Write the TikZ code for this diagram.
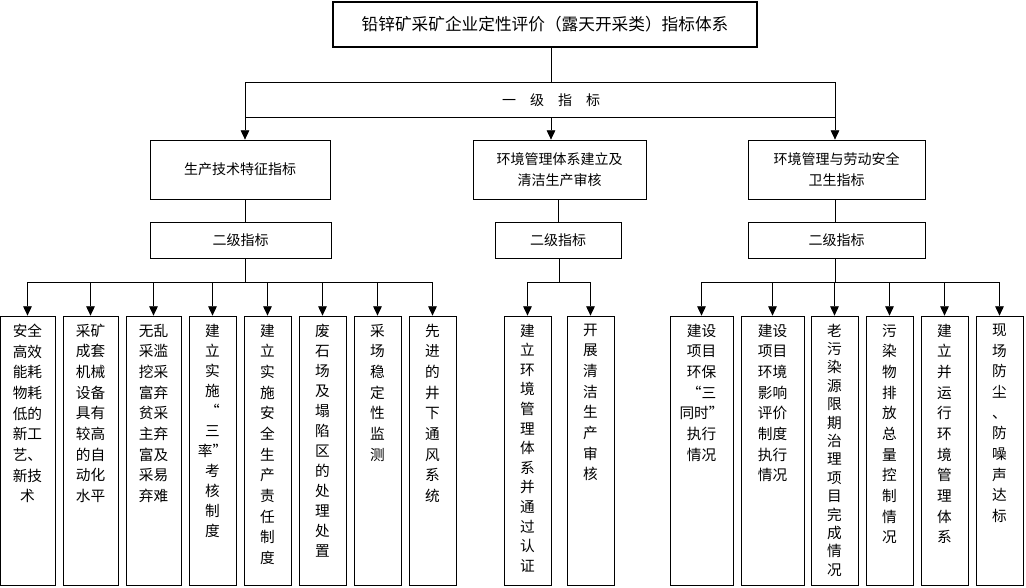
\documentclass[tikz,border=0pt]{standalone}
\usepackage{fontspec}
\setmainfont{Noto Sans CJK SC}
\usetikzlibrary{arrows.meta}
\tikzset{
  box/.style={draw, line width=0.6pt, inner sep=0pt},
  leaf/.style={draw, line width=0.6pt, minimum height=201.75pt, inner sep=0pt},
  leaftext/.style={anchor=north, yshift=-6pt, inner sep=0pt, align=center},
  arr/.style={-{Triangle[length=7pt,width=6.5pt]}, line width=0.6pt},
  ln/.style={line width=0.6pt}
}
\begin{document}
\begin{tikzpicture}[x=0.75pt,y=-0.75pt]
\useasboundingbox (0,0) rectangle (1026,587);
% top
\node[box, line width=1.2pt, minimum width=318pt, minimum height=33.75pt,
  font=\fontsize{12.5}{15}\selectfont] (title) at (545,24.5) {铅锌矿采矿企业定性评价（露天开采类）指标体系};
\coordinate (bandL) at (245,82);
\coordinate (bandM) at (551,82);
\coordinate (bandR) at (835,82);
\coordinate (lowL) at (245,117);
\coordinate (lowM) at (551,117);
\coordinate (lowR) at (835,117);
\node[font=\fontsize{10.5}{12}\selectfont] (lvl) at (551,100) {一\quad 级\quad 指\quad 标};
\draw[ln] (title.south -| bandM) -- (bandM);
\draw[ln] (bandL) -- (bandR);
\draw[ln] (lowL) -- (lowR);

\node[box, minimum width=135pt, minimum height=44.25pt, font=\fontsize{10.5}{16}\selectfont, align=center]
  (p1) at (240,169.5) {生产技术特征指标};
\node[box, minimum width=129.75pt, minimum height=44.25pt, font=\fontsize{10.5}{16}\selectfont, align=center]
  (p2) at (559.5,169.5) {环境管理体系建立及\\清洁生产审核};
\node[box, minimum width=132.75pt, minimum height=44.25pt, font=\fontsize{10.5}{16}\selectfont, align=center]
  (p3) at (836.5,169.5) {环境管理与劳动安全\\卫生指标};
\draw[arr] (bandL) -- (p1.north -| bandL);
\draw[arr] (lowM) -- (p2.north -| lowM);
\draw[arr] (bandR) -- (p3.north -| bandR);

\node[box, minimum width=135.75pt, minimum height=27pt, font=\fontsize{10.5}{12}\selectfont] (s1) at (240.5,240) {二级指标};
\node[box, minimum width=94.5pt, minimum height=27pt, font=\fontsize{10.5}{12}\selectfont] (s2) at (558,240) {二级指标};
\node[box, minimum width=132.75pt, minimum height=27pt, font=\fontsize{10.5}{12}\selectfont] (s3) at (836.5,240) {二级指标};
\draw[ln] (p1.south -| bandL) -- (s1.north -| bandL);
\draw[ln] (p2.south -| s2) -- (s2.north);
\draw[ln] (p3.south -| bandR) -- (s3.north -| bandR);

% bottom boxes
\foreach \n/\cx/\w/\sk/\t in {
  a1/27.5/41.25/15.5/{安全\\高效\\能耗\\物耗\\低的\\新工\\艺、\\新技\\术},
  a2/90.5/41.25/15.5/{采矿\\成套\\机械\\设备\\具有\\较高\\的自\\动化\\水平},
  a3/153.5/41.25/15.5/{无乱\\采滥\\挖采\\富弃\\贫采\\主弃\\富及\\采易\\弃难},
  a4/212.5/35.25/15/{建\\立\\实\\施\\“\\三\\率”\\考\\核\\制\\度},
  a5/267.5/35.25/15.5/{建\\立\\实\\施\\安\\全\\生\\产\\责\\任\\制\\度},
  a6/322.5/35.25/15/{废\\石\\场\\及\\塌\\陷\\区\\的\\处\\理\\处\\置},
  a7/377.5/35.25/15.5/{采\\场\\稳\\定\\性\\监\\测},
  a8/432.5/35.25/15.5/{先\\进\\的\\井\\下\\通\\风\\系\\统},
  b1/527.5/35.25/14.7/{建\\立\\环\\境\\管\\理\\体\\系\\并\\通\\过\\认\\证},
  b2/590.5/35.25/15.5/{开\\展\\清\\洁\\生\\产\\审\\核},
  c1/701.5/47.25/15.5/{建设\\项目\\环保\\“三\\同时”\\执行\\情况},
  c2/772.5/47.25/15.5/{建设\\项目\\环境\\影响\\评价\\制度\\执行\\情况},
  c3/834.5/35.25/13.8/{老\\污\\染\\源\\限\\期\\治\\理\\项\\目\\完\\成\\情\\况},
  c4/889.5/35.25/15.5/{污\\染\\物\\排\\放\\总\\量\\控\\制\\情\\况},
  c5/944.5/35.25/15.5/{建\\立\\并\\运\\行\\环\\境\\管\\理\\体\\系},
  c6/999.5/35.25/15.5/{现\\场\\防\\尘\\、\\防\\噪\\声\\达\\标}}{
  \node[leaf, minimum width=\w pt] (\n) at (\cx,450.5) {};
  \node[leaftext, font=\fontsize{11}{\sk}\selectfont] (\n t) at (\n.north) {\t};
}
\coordinate (jA) at (245,282);
\coordinate (jB) at (559,282);
\coordinate (jC) at (835,282);
\draw[ln] (s1.south -| jA) -- (jA);
\draw[ln] (s2.south -| jB) -- (jB);
\draw[ln] (s3.south -| jC) -- (jC);
\draw[ln] (jA -| a1) -- (jA -| a8);
\draw[ln] (jB -| b1) -- (jB -| b2);
\draw[ln] (jC -| c1) -- (jC -| c6);
\foreach \n in {a1,a2,a3,a4,a5,a6,a7,a8}
  \draw[arr] (jA -| \n) -- (\n.north);
\foreach \n in {b1,b2}
  \draw[arr] (jB -| \n) -- (\n.north);
\foreach \n in {c1,c2,c3,c4,c5,c6}
  \draw[arr] (jC -| \n) -- (\n.north);
\end{tikzpicture}
\end{document}
